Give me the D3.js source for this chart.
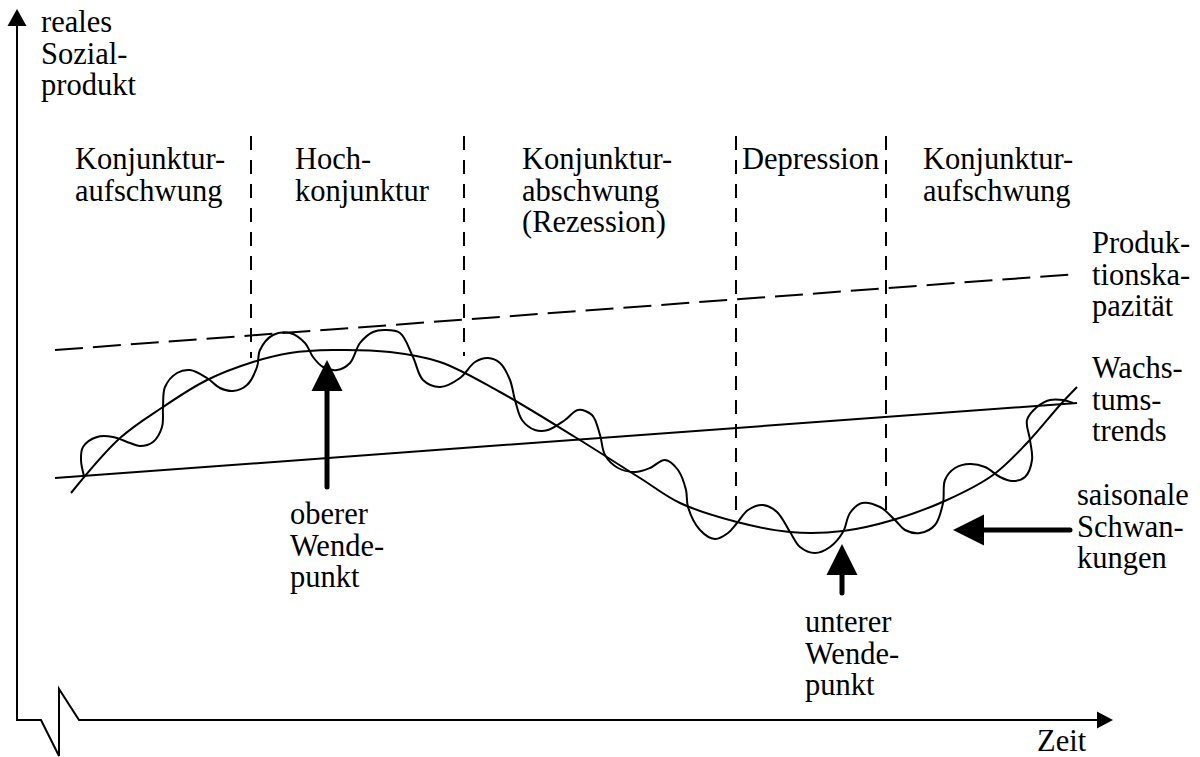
<!DOCTYPE html>
<html>
<head>
<meta charset="utf-8">
<script src="https://cdn.jsdelivr.net/npm/d3@7/dist/d3.min.js"></script>
<style>
  body { margin: 0; background: #fff; }
  svg { display: block; }
</style>
</head>
<body>
<svg width="1200" height="757"></svg>
<script>
const phaseNames = [
  ['Konjunktur-', 'aufschwung'],
  ['Hoch-', 'konjunktur'],
  ['Konjunktur-', 'abschwung', '(Rezession)'],
  ['Depression'],
  ['Konjunktur-', 'aufschwung']
]
// dashed phase borders: [t, v bottom, v top]
const phaseBounds = [[234, 362, 584], [447, 364, 584], [719, 203, 584], [869, 203, 584]]

const capacityLine = [[38, 370], [1060, 446]]
const trendLine = [[38, 242], [1060, 317]]

// smooth business cycle
const cycle = [
  [54, 227], [103, 282], [146, 313], [190, 340], [236, 358], [273, 367], [316, 370],
  [373, 368], [423, 358], [483, 328], [558, 283], [623, 242], [663, 217], [720, 198],
  [773, 188], [826, 189], [876, 200], [930, 220], [976, 245], [1010, 277], [1043, 315],
  [1060, 333]
]

// cycle with seasonal fluctuations
const seasonal = [
  [67, 244], [64, 260], [66, 273], [80, 283], [96, 283], [113, 277], [123, 274],
  [136, 278], [145, 293], [146, 313], [148, 333], [160, 347], [173, 350], [190, 342],
  [203, 332], [216, 329], [230, 335], [240, 353], [243, 370], [256, 385], [273, 387],
  [288, 377], [296, 363], [306, 353], [320, 350], [333, 357], [343, 377], [356, 388],
  [368, 390], [383, 387], [396, 363], [406, 340], [423, 333], [443, 342], [458, 358],
  [471, 362], [483, 357], [493, 340], [498, 320], [505, 300], [518, 290], [531, 290],
  [548, 300], [561, 310], [575, 305], [583, 285], [588, 265], [601, 252], [618, 248],
  [633, 252], [648, 260], [661, 250], [669, 230], [671, 213], [683, 190], [698, 181],
  [711, 187], [720, 197], [731, 210], [746, 215], [760, 208], [773, 188], [783, 173],
  [798, 167], [813, 173], [826, 188], [833, 207], [845, 217], [863, 213], [878, 200],
  [888, 190], [903, 187], [918, 195], [926, 217], [928, 240], [938, 252], [953, 256],
  [968, 253], [983, 243], [995, 239], [1008, 243], [1015, 260], [1013, 280], [1010, 300],
  [1020, 313], [1033, 320], [1046, 320], [1056, 317]
]

// pointer arrows: [t from, v from, t to, v to]
const pointers = [
  [310, 233, 310, 360],
  [825, 127, 825, 176],
  [1053, 190, 936, 190]
]

const sideLabels = [
  ['reales', 'Sozial-', 'produkt'],
  ['Produk-', 'tionska-', 'pazität'],
  ['Wachs-', 'tums-', 'trends'],
  ['saisonale', 'Schwan-', 'kungen'],
  ['oberer', 'Wende-', 'punkt'],
  ['unterer', 'Wende-', 'punkt'],
  ['Zeit']
]

const fontFam = '"Liberation Serif", serif'

const svg = d3.select('svg')
const x = d3.scaleLinear().domain([0, 1096]).range([17, 1113])
const y = d3.scaleLinear().domain([0, 711]).range([720, 9])
const lineH = 31.5

const line = d3.line().x(d => x(d[0])).y(d => y(d[1]))
const smooth = d3.line().x(d => x(d[0])).y(d => y(d[1])).curve(d3.curveCatmullRom.alpha(0.5))

// axes with break in the time axis
let x0 = x(0), y0 = y(0)
svg.append('path')
  .attr('d', `M${x0},${y(698)} L${x0},${y0} L${x0 + 24},${y0} L${x0 + 42},${y0 + 36} L${x0 + 42},${y0 - 31} L${x0 + 62},${y0} L${x(1080)},${y0}`)
  .attr('fill', 'none').attr('stroke', '#000').attr('stroke-width', 2)
svg.append('path')
  .attr('d', `M${x0},${y(711)} L${x0 - 9.5},${y(694)} L${x0 + 9.5},${y(694)} Z`)
svg.append('path')
  .attr('d', `M${x(1096)},${y0} L${x(1080)},${y0 - 8.5} L${x(1080)},${y0 + 8.5} Z`)

// phase borders
svg.selectAll('.bound').data(phaseBounds).enter().append('line')
  .attr('x1', d => x(d[0])).attr('x2', d => x(d[0]))
  .attr('y1', d => y(d[2])).attr('y2', d => y(d[1]))
  .attr('stroke', '#000').attr('stroke-width', 2).attr('stroke-dasharray', '14,10')

svg.append('path').attr('d', line(capacityLine))
  .attr('fill', 'none').attr('stroke', '#000').attr('stroke-width', 2).attr('stroke-dasharray', '28,10')
svg.append('path').attr('d', line(trendLine))
  .attr('fill', 'none').attr('stroke', '#000').attr('stroke-width', 2)

svg.append('path').attr('d', smooth(cycle))
  .attr('fill', 'none').attr('stroke', '#000').attr('stroke-width', 2)
svg.append('path').attr('d', smooth(seasonal))
  .attr('fill', 'none').attr('stroke', '#000').attr('stroke-width', 2)

// thick arrows
pointers.forEach(p => {
  let x1 = x(p[0]), y1 = y(p[1]), x2 = x(p[2]), y2 = y(p[3])
  let ang = Math.atan2(y2 - y1, x2 - x1)
  let len = 31, half = 15.5
  let bx = x2 - len * Math.cos(ang), by = y2 - len * Math.sin(ang)
  svg.append('line')
    .attr('x1', x1).attr('y1', y1).attr('x2', bx).attr('y2', by)
    .attr('stroke', '#000').attr('stroke-width', 5).attr('stroke-linecap', 'round')
  svg.append('path')
    .attr('d', `M${x2},${y2} L${bx - half * Math.sin(ang)},${by + half * Math.cos(ang)} L${bx + half * Math.sin(ang)},${by - half * Math.cos(ang)} Z`)
})

// text, one element per line
const addText = (lines, px, py) => {
  lines.forEach((s, i) => {
    svg.append('text')
      .attr('x', px).attr('y', py + i * lineH)
      .style('font-family', fontFam)
      .style('font-size', '30.5px')
      .text(s)
  })
}
let phaseLabelPos = [[75, 169], [295, 169], [522, 169], [742, 169], [923, 169]]
phaseNames.forEach((n, i) => addText(n, phaseLabelPos[i][0], phaseLabelPos[i][1]))

let sidePos = [[41, 32], [1092, 253], [1092, 378], [1077, 505], [290, 524], [805, 632], [1037, 751]]
sideLabels.forEach((n, i) => addText(n, sidePos[i][0], sidePos[i][1]))
</script>
</body>
</html>
